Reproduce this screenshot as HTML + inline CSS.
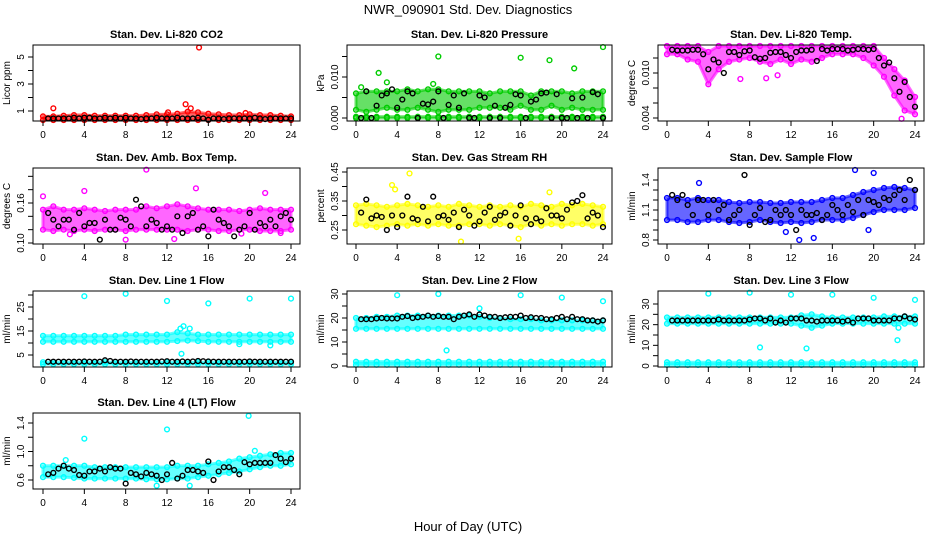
<!DOCTYPE html>
<html><head><meta charset="utf-8"><style>
body{margin:0;background:#fff}
svg{display:block;font-family:"Liberation Sans",sans-serif}
</style></head><body>
<svg id="chart" width="936" height="540" viewBox="0 0 936 540">
<text x="468" y="14" text-anchor="middle" font-size="13">NWR_090901  Std. Dev. Diagnostics</text>
<text x="468" y="531" text-anchor="middle" font-size="13">Hour of Day (UTC)</text>
</svg>
<script>
// ---- data (hourly band lo/hi, half-hourly black series, outliers) ----
const hours = [0,1,2,3,4,5,6,7,8,9,10,11,12,13,14,15,16,17,18,19,20,21,22,23,24];
const xTicks = [0,4,8,12,16,20,24];

const co2Lo = [0.3,0.3,0.3,0.3,0.3,0.3,0.3,0.3,0.3,0.3,0.3,0.3,0.3,0.3,0.3,0.3,0.3,0.3,0.3,0.3,0.3,0.3,0.3,0.3,0.3];
const co2Hi = [0.6,0.6,0.65,0.7,0.7,0.65,0.65,0.65,0.65,0.65,0.7,0.75,0.75,0.8,0.95,0.9,0.8,0.75,0.7,0.7,0.75,0.7,0.7,0.65,0.6];
const co2Black = [0.45,0.45,0.45,0.45,0.45,0.5,0.45,0.5,0.5,0.45,0.45,0.5,0.45,0.5,0.45,0.5,0.45,0.45,0.4,0.45,0.45,0.5,0.45,0.45,0.45,0.5,0.45,0.45,0.45,0.5,0.45,0.35,0.45,0.45,0.4,0.45,0.45,0.45,0.45,0.45,0.5,0.45,0.4,0.45,0.45,0.45,0.45,0.45];
const co2Out = [[1,1.2],[15.1,5.7],[13.8,1.5],[14.3,1.2],[12.1,0.9],[19.6,0.85]];

const presLo = [0.002,0.0015,0.002,0.0025,0.002,0.002,0.0025,0.002,0.0015,0.002,0.002,0.002,0.0025,0.0025,0.0025,0.002,0.003,0.002,0.002,0.003,0.002,0.0025,0.002,0.002,0.002];
const presHi = [0.006,0.0065,0.0065,0.0065,0.0065,0.007,0.0065,0.007,0.007,0.0065,0.0065,0.0065,0.0065,0.006,0.0065,0.0065,0.0065,0.0055,0.0065,0.0065,0.0065,0.006,0.0065,0.0065,0.0065];
const presLo2 = [0,0,0,0,0,0,0,0,0,0,0,0,0,0,0,0,0,0,0,0,0,0,0,0,0];
const presHi2 = [0.0003,0.0003,0.0003,0.0003,0.0003,0.0003,0.0003,0.0003,0.0003,0.0003,0.0003,0.0003,0.0003,0.0003,0.0003,0.0003,0.0003,0.0003,0.0003,0.0003,0.0003,0.0003,0.0003,0.0003,0.0003];
const presBlack = [0,0.0065,0,0.003,0.0055,0.006,0.007,0.0025,0.0045,0.0065,0.006,0,0.0035,0.0033,0.004,0.0065,0,0.0032,0.0055,0.0025,0.006,0,0,0.0055,0.005,0,0.003,0,0.0025,0.0032,0.0058,0.0055,0,0.004,0.0045,0.006,0.0062,0,0.0058,0,0,0.0048,0,0.005,0,0.0063,0.0058,0];
const presOut = [[0.5,0.0075],[2.2,0.011],[3,0.0087],[8,0.015],[16,0.0147],[18.8,0.0141],[21.2,0.0121],[24,0.0173],[7.5,0.0083]];

const tempLo = [0.0125,0.0125,0.0118,0.0115,0.0085,0.0105,0.0115,0.0118,0.012,0.0115,0.0112,0.0118,0.0112,0.0118,0.0115,0.012,0.0125,0.0125,0.0125,0.012,0.011,0.0095,0.007,0.005,0.0045];
const tempHi = [0.0137,0.0137,0.0137,0.0137,0.0128,0.0137,0.0137,0.0137,0.0137,0.0137,0.0137,0.0137,0.0137,0.0137,0.0137,0.0137,0.0137,0.0137,0.0137,0.0137,0.0137,0.012,0.0105,0.009,0.0068];
const tempBlack = [0.0131,0.013,0.013,0.013,0.0131,0.0131,0.0125,0.0105,0.0118,0.0114,0.01,0.0128,0.0128,0.0124,0.0129,0.013,0.0121,0.0119,0.012,0.0127,0.0128,0.0128,0.0124,0.012,0.0128,0.013,0.013,0.0131,0.0116,0.0132,0.013,0.0132,0.0132,0.0132,0.013,0.0131,0.0132,0.0132,0.0131,0.0132,0.012,0.011,0.0114,0.0093,0.0075,0.0088,0.0068,0.0055];
const tempOut = [[22.7,0.0039],[7.1,0.0092],[10.7,0.0097],[9.6,0.0093]];

const ambLo = [0.12,0.118,0.12,0.118,0.12,0.118,0.12,0.12,0.118,0.12,0.12,0.12,0.12,0.12,0.118,0.12,0.12,0.118,0.118,0.12,0.12,0.118,0.118,0.118,0.12];
const ambHi = [0.15,0.155,0.15,0.15,0.152,0.15,0.148,0.15,0.15,0.15,0.155,0.152,0.155,0.158,0.155,0.152,0.15,0.15,0.15,0.148,0.15,0.152,0.15,0.15,0.15];
const ambBlack = [0.145,0.135,0.125,0.135,0.135,0.12,0.145,0.125,0.13,0.13,0.105,0.135,0.12,0.12,0.138,0.135,0.125,0.165,0.155,0.125,0.135,0.13,0.12,0.125,0.12,0.14,0.115,0.14,0.145,0.12,0.125,0.11,0.15,0.135,0.13,0.125,0.11,0.12,0.125,0.145,0.12,0.13,0.125,0.135,0.125,0.14,0.145,0.135];
const ambOut = [[0,0.17],[4,0.178],[10,0.21],[14.8,0.182],[21.5,0.175],[8,0.105],[12.7,0.106],[2.6,0.113],[19.2,0.114],[23,0.115]];

const rhLo = [0.27,0.265,0.26,0.265,0.27,0.265,0.27,0.265,0.27,0.265,0.265,0.27,0.27,0.265,0.27,0.265,0.26,0.27,0.265,0.27,0.265,0.27,0.27,0.265,0.27];
const rhHi = [0.335,0.34,0.335,0.33,0.335,0.34,0.335,0.33,0.335,0.33,0.34,0.335,0.33,0.335,0.33,0.335,0.33,0.34,0.335,0.33,0.34,0.335,0.34,0.335,0.33];
const rhBlack = [0.31,0.355,0.29,0.30,0.295,0.25,0.30,0.26,0.30,0.365,0.29,0.285,0.33,0.28,0.365,0.295,0.30,0.285,0.31,0.26,0.32,0.30,0.265,0.28,0.31,0.33,0.285,0.30,0.31,0.265,0.30,0.335,0.29,0.27,0.29,0.28,0.325,0.30,0.30,0.29,0.32,0.345,0.35,0.37,0.29,0.31,0.30,0.26];
const rhOut = [[5.2,0.445],[3.5,0.405],[3.8,0.39],[18.8,0.38],[10.2,0.21],[15.8,0.22]];

const flowLo = [1.0,1.0,0.98,0.98,1.0,1.0,0.98,0.97,0.98,1.0,0.98,0.97,0.98,0.97,0.98,1.0,1.0,1.0,1.02,1.05,1.08,1.1,1.1,1.1,1.12];
const flowHi = [1.22,1.22,1.2,1.22,1.2,1.2,1.18,1.17,1.18,1.18,1.17,1.17,1.18,1.18,1.18,1.2,1.22,1.22,1.25,1.28,1.3,1.32,1.33,1.32,1.3];
const flowBlack = [1.25,1.2,1.25,1.15,1.05,1.2,1.2,1.05,1.2,1.1,1.15,1.0,1.05,1.1,1.45,0.95,1.05,1.12,0.98,1.0,1.1,1.05,1.1,1.05,0.9,1.1,1.05,1.05,1.07,1.0,1.05,1.15,1.1,1.05,1.15,1.08,1.2,1.05,1.2,1.18,1.15,1.22,1.2,1.25,1.3,1.2,1.4,1.3];
const flowOut = [[12.8,0.8],[14.2,0.82],[18.2,1.5],[20,1.47],[11.5,0.88],[3.1,1.37],[19.5,0.9]];

const l1Lo = [10.5,10.5,10.5,10.5,10.5,10.5,10.5,10.5,10.5,10.5,10.5,10.5,10.5,10.8,11,10.8,10.5,10.5,10.5,10.5,10.5,10.5,10.5,10.5,10.5];
const l1Hi = [13,13,13,13,13,13,13,13,13.5,13.5,13.5,13.5,13.5,14.5,14,13.5,13.5,13.5,13.5,13.5,13.5,13.5,13.5,13.5,13.5];
const l1Lo2 = [1.2,1.2,1.2,1.2,1.2,1.2,1.2,1.2,1.2,1.2,1.2,1.2,1.2,1.2,1.2,1.2,1.2,1.2,1.2,1.2,1.2,1.2,1.2,1.2,1.2];
const l1Hi2 = [2,2,2,2,2,2,2,2,2,2,2,2,2,2,2,2,2,2,2,2,2,2,2,2,2];
const l1Black = [2.2,2.2,2.2,2.2,2.2,2.2,2.2,2.3,2.2,2.2,2.2,2.8,2.5,2.2,2.2,2.2,2.3,2.2,2.2,2.2,2.2,2.2,2.3,2.4,2.2,2.2,2.3,2.2,2.3,2.5,2.4,2.3,2.2,2.2,2.2,2.2,2.2,2.2,2.2,2.3,2.2,2.2,2.2,2.2,2.2,2.2,2.2,2.2];
const l1Out = [[4,29.5],[8,30.5],[12,27.5],[16,26.5],[20,28.5],[24,28.5],[13.3,16],[13.6,17],[14.2,16],[13.4,5.5],[19,9.5],[22,9]];

const l2Lo = [15.5,15.5,15.5,15.5,15.5,15.5,15.5,15.5,15.5,15.5,15.5,15.5,15.5,15.5,15.5,15.5,15.5,15.5,15.5,15.5,15.5,15.5,15.5,15.5,15.5];
const l2Hi = [20,20,20.5,20.5,21,21,21,21,21,21,21,21,20.5,20,20,19.5,19.5,19.5,19,19,19,19,19,19,19];
const l2Lo2 = [0.5,0.5,0.5,0.5,0.5,0.5,0.5,0.5,0.5,0.5,0.5,0.5,0.5,0.5,0.5,0.5,0.5,0.5,0.5,0.5,0.5,0.5,0.5,0.5,0.5];
const l2Hi2 = [1.8,1.8,1.8,1.8,1.8,1.8,1.8,1.8,1.8,1.8,1.8,1.8,1.8,1.8,1.8,1.8,1.8,1.8,1.8,1.8,1.8,1.8,1.8,1.8,1.8];
const l2Black = [19.5,19.5,19.5,19.8,20,19.8,19.8,19.8,20.5,20.8,20,20.3,20.5,21,20.5,20.8,20.5,20.5,19.5,20.5,21,21.5,20.5,21.5,21,20.5,20.5,20,20.3,20.5,20.5,21,20,20.3,20,20,19.5,19.5,20,20.5,19.5,20.5,19.5,19.5,19,19,18.5,19];
const l2Out = [[4,29.5],[8,30],[16,29.5],[20,28.5],[24,27],[8.8,6.5],[12,24]];

const l3Lo = [20.5,20.5,20.5,20.5,20.5,20.5,20.5,20.5,20.5,20.5,20.5,20.5,20.5,19.5,18.5,19.5,20.5,20.5,20.5,20.5,20.5,20.5,20.5,20.5,20.5];
const l3Hi = [23.5,23.5,23.5,23.5,23.5,23.5,23.5,23.5,23.5,23.5,23.5,23.5,23.5,24.5,25,24,23.5,23.5,23.5,23.5,23.5,24,24,24,24];
const l3Lo2 = [0.5,0.5,0.5,0.5,0.5,0.5,0.5,0.5,0.5,0.5,0.5,0.5,0.5,0.5,0.5,0.5,0.5,0.5,0.5,0.5,0.5,0.5,0.5,0.5,0.5];
const l3Hi2 = [1.8,1.8,1.8,1.8,1.8,1.8,1.8,1.8,1.8,1.8,1.8,1.8,1.8,1.8,1.8,1.8,1.8,1.8,1.8,1.8,1.8,1.8,1.8,1.8,1.8];
const l3Black = [22,22,22,22,22,22,22,22,22,22.5,22,22,22,22,22,22.5,23,23,22,23,21,22,21,23,23,23,22,22,21.5,22,22,22,22,21.5,22,21,23,23,23,22,22,22,22,23,23,24,23,22.5];
const l3Out = [[4,35],[8,35.5],[12,34.5],[16,34.5],[20,33],[24,32],[9,9],[13.5,8.5],[22.3,12.5],[22.4,18.5]];

const l4Lo = [0.64,0.64,0.64,0.63,0.62,0.62,0.62,0.62,0.62,0.62,0.61,0.61,0.61,0.62,0.62,0.64,0.66,0.68,0.7,0.72,0.75,0.78,0.8,0.8,0.82];
const l4Hi = [0.8,0.8,0.8,0.8,0.8,0.78,0.78,0.78,0.78,0.78,0.78,0.78,0.78,0.8,0.8,0.8,0.82,0.84,0.86,0.9,0.92,0.94,0.96,0.98,0.98];
const l4Black = [0.68,0.7,0.76,0.8,0.76,0.74,0.67,0.66,0.72,0.72,0.76,0.72,0.78,0.76,0.76,0.55,0.7,0.68,0.65,0.7,0.68,0.66,0.6,0.68,0.84,0.62,0.66,0.74,0.74,0.72,0.7,0.86,0.6,0.72,0.78,0.78,0.74,0.68,0.85,0.82,0.84,0.84,0.84,0.84,0.95,0.9,0.85,0.9];
const l4Out = [[4,1.18],[12,1.31],[19.9,1.5],[11,0.52],[14.2,0.52],[2.2,0.88],[20.5,1.01]];

// ---- layout ----
const COLS = [{l:33,r:300,x0:43,x24:291},{l:347,r:612,x0:356,x24:603},{l:658,r:924,x0:667,x24:915}];
const ROWS = [{t:45,b:121},{t:168,b:244},{t:291,b:367},{t:413,b:489}];
const panels = [
 {name:'co2',title:'Stan. Dev. Li-820 CO2',ylab:'Licor ppm',c:0,r:0,col:'#ff0000',ref:[1,111,5,57],ticks:[1,2,3,4,5],labs:[[1,'1'],[3,'3'],[5,'5']],lo:co2Lo,hi:co2Hi,blk:co2Black,out:co2Out},
 {name:'pressure',title:'Stan. Dev. Li-820 Pressure',ylab:'kPa',c:1,r:0,col:'#00cc00',ref:[0,118,0.01,77],ticks:[0,0.005,0.01,0.015],labs:[[0,'0.000'],[0.01,'0.010']],lo:presLo,hi:presHi,lo2:presLo2,hi2:presHi2,blk:presBlack,out:presOut},
 {name:'temp',title:'Stan. Dev. Li-820 Temp.',ylab:'degrees C',c:2,r:0,col:'#ff00ff',ref:[0.004,118,0.010,73],ticks:[0.004,0.006,0.008,0.010,0.012],labs:[[0.004,'0.004'],[0.010,'0.010']],lo:tempLo,hi:tempHi,blk:tempBlack,out:tempOut},
 {name:'amb-box-temp',title:'Stan. Dev. Amb. Box Temp.',ylab:'degrees C',c:0,r:1,col:'#ff00ff',ref:[0.10,243,0.16,203],ticks:[0.10,0.12,0.14,0.16,0.18,0.20],labs:[[0.10,'0.10'],[0.16,'0.16']],lo:ambLo,hi:ambHi,blk:ambBlack,out:ambOut},
 {name:'gas-rh',title:'Stan. Dev. Gas Stream RH',ylab:'percent',c:1,r:1,col:'#ffff00',ref:[0.25,230,0.45,172],ticks:[0.25,0.30,0.35,0.40,0.45],labs:[[0.25,'0.25'],[0.35,'0.35'],[0.45,'0.45']],lo:rhLo,hi:rhHi,blk:rhBlack,out:rhOut},
 {name:'sample-flow',title:'Stan. Dev. Sample Flow',ylab:'ml/min',c:2,r:1,col:'#0000ff',ref:[0.8,240,1.4,180],ticks:[0.8,0.9,1.0,1.1,1.2,1.3,1.4],labs:[[0.8,'0.8'],[1.1,'1.1'],[1.4,'1.4']],lo:flowLo,hi:flowHi,blk:flowBlack,out:flowOut},
 {name:'line1-flow',title:'Stan. Dev. Line 1 Flow',ylab:'ml/min',c:0,r:2,col:'#00ffff',ref:[5,355,25,307],ticks:[5,10,15,20,25,30],labs:[[5,'5'],[15,'15'],[25,'25']],lo:l1Lo,hi:l1Hi,lo2:l1Lo2,hi2:l1Hi2,blk:l1Black,out:l1Out},
 {name:'line2-flow',title:'Stan. Dev. Line 2 Flow',ylab:'ml/min',c:1,r:2,col:'#00ffff',ref:[0,366,30,294],ticks:[0,5,10,15,20,25,30],labs:[[0,'0'],[10,'10'],[20,'20'],[30,'30']],lo:l2Lo,hi:l2Hi,lo2:l2Lo2,hi2:l2Hi2,blk:l2Black,out:l2Out},
 {name:'line3-flow',title:'Stan. Dev. Line 3 Flow',ylab:'ml/min',c:2,r:2,col:'#00ffff',ref:[0,366,30,304],ticks:[0,5,10,15,20,25,30],labs:[[0,'0'],[10,'10'],[20,'20'],[30,'30']],lo:l3Lo,hi:l3Hi,lo2:l3Lo2,hi2:l3Hi2,blk:l3Black,out:l3Out},
 {name:'line4-flow',title:'Stan. Dev. Line 4 (LT) Flow',ylab:'ml/min',c:0,r:3,col:'#00ffff',ref:[0.6,480,1.4,423],ticks:[0.6,0.8,1.0,1.2,1.4],labs:[[0.6,'0.6'],[1.0,'1.0'],[1.4,'1.4']],lo:l4Lo,hi:l4Hi,blk:l4Black,out:l4Out}
];

const NS='http://www.w3.org/2000/svg';
const svg=document.getElementById('chart');
function mk(tag,attrs,parent){const e=document.createElementNS(NS,tag);for(const k in attrs)e.setAttribute(k,attrs[k]);(parent||svg).appendChild(e);return e;}

panels.forEach(p=>{
  const C=COLS[p.c],R=ROWS[p.r];
  const g=mk('g',{});
  
  
  const xs=v=>C.x0+(C.x24-C.x0)*v/24;
  const [v1,p1,v2,p2]=p.ref;
  const ys=v=>{let y=p1+(p2-p1)*(v-v1)/(v2-v1);return Math.max(R.t+1,Math.min(R.b-1,y));};
  const ysRaw=v=>p1+(p2-p1)*(v-v1)/(v2-v1);
  const t=mk('text',{x:(C.l+C.r)/2,y:R.t-7,'text-anchor':'middle','font-size':11,'font-weight':'bold'},g);
  t.textContent=p.title;
  
  
  const yl=mk('text',{transform:`translate(${C.l-23},${(R.t+R.b)/2}) rotate(-90)`,'text-anchor':'middle','font-size':10},g);
  yl.textContent=p.ylab;
  
  
  const bandSets=[[p.lo,p.hi]];
  if(p.lo2) bandSets.push([p.lo2,p.hi2]);
  bandSets.forEach(([lo,hi],bi)=>{
    let pts=hours.map((h,i)=>xs(h)+','+ys(hi[i]));
    pts=pts.concat(hours.slice().reverse().map((h,j)=>{const i=hours.length-1-j;return xs(h)+','+ys(lo[i]);}));
    const band=mk('polygon',{points:pts.join(' '),fill:p.col,'fill-opacity':0.6,stroke:p.col,'stroke-opacity':0.6,'stroke-width':3,'stroke-linejoin':'round'},g);
    
    
    hours.forEach((h,i)=>{
      [lo[i],hi[i]].forEach(v=>{
        const c=mk('circle',{cx:xs(h),cy:ys(v),r:2.4,fill:'none',stroke:p.col,'stroke-width':1.4},g);
        
        
      });
    });
  });
  p.out.forEach(([h,v])=>{
    const c=mk('circle',{cx:xs(h),cy:ys(v),r:2.4,fill:'none',stroke:p.col,'stroke-width':1.4},g);
    
    
  });
  p.blk.forEach((v,i)=>{
    const c=mk('circle',{cx:xs(0.5*(i+1)),cy:ys(v),r:2.4,fill:'none',stroke:'#000','stroke-width':1.4},g);
    
    
  });
  const box=mk('rect',{x:C.l,y:R.t,width:C.r-C.l,height:R.b-R.t,fill:'none',stroke:'#000','stroke-width':1},g);
  
  
  mk('line',{x1:xs(0),x2:xs(24),y1:R.b,y2:R.b,stroke:'#000'},g);
  xTicks.forEach(h=>{
    mk('line',{x1:xs(h),x2:xs(h),y1:R.b,y2:R.b+5,stroke:'#000'},g);
    const tl=mk('text',{x:xs(h),y:R.b+17,'text-anchor':'middle','font-size':10},g);
    tl.textContent=h;
    
    
  });
  const yt0=ysRaw(p.ticks[0]),yt1=ysRaw(p.ticks[p.ticks.length-1]);
  mk('line',{x1:C.l,x2:C.l,y1:yt0,y2:yt1,stroke:'#000'},g);
  p.ticks.forEach(v=>mk('line',{x1:C.l-5,x2:C.l,y1:ysRaw(v),y2:ysRaw(v),stroke:'#000'},g));
  p.labs.forEach(([v,s])=>{
    const tl=mk('text',{transform:`translate(${C.l-9},${ysRaw(v)}) rotate(-90)`,'text-anchor':'middle','font-size':10},g);
    tl.textContent=s;
    
    
  });
});
</script>
</body></html>
